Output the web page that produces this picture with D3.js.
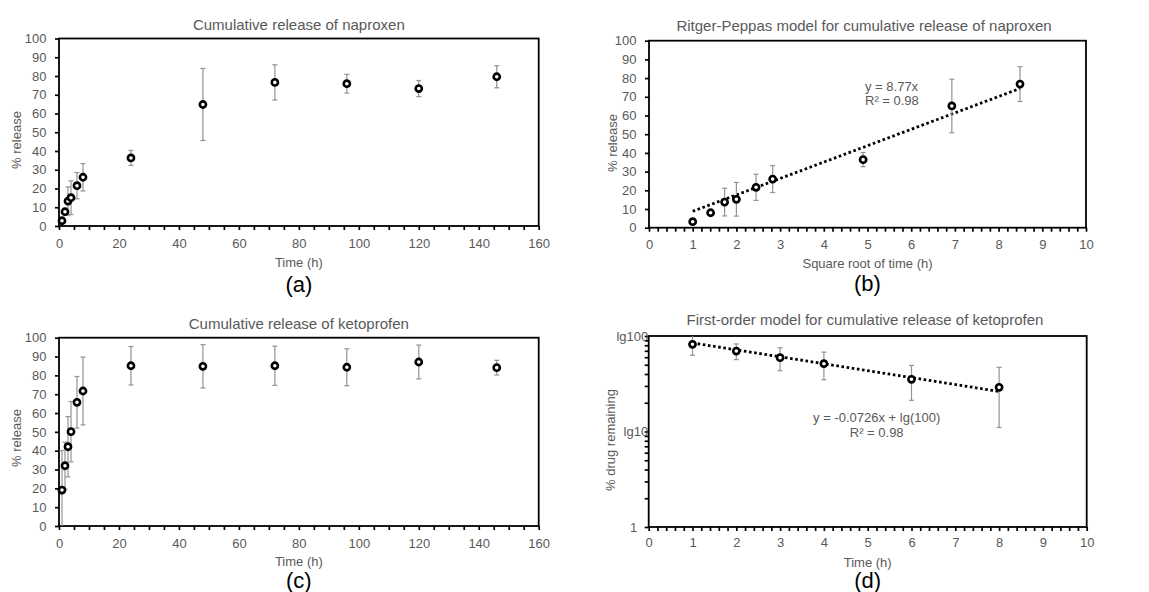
<!DOCTYPE html>
<html>
<head>
<meta charset="utf-8">
<script src="https://cdn.jsdelivr.net/npm/d3@7"></script>
<style>
  body { margin: 0; background: #fff; }
  svg { display: block; font-family: "Liberation Sans", Arial, sans-serif; }
</style>
</head>
<body>
<div id="chart"></div>
<script>
'use strict'

// panel (a) and (c): time in hours
var timeH = [1, 2, 3, 4, 6, 8, 24, 48, 72, 96, 120, 146];
var releaseNap = [2.8, 7.6, 13.3, 15.1, 21.5, 26, 36.3, 64.8, 76.6, 75.9, 73.3, 79.6];
var errNap = [1, 1.5, 7.5, 9, 7, 7.3, 4, 19.2, 9.4, 5, 4.3, 5.9];

// panel (b): square root of time
var sqrtTime = [1, 1.41, 1.73, 2, 2.45, 2.83, 4.9, 6.93, 8.49];
var releaseNapB = [3.2, 8, 13.7, 15.2, 21.6, 26, 36.4, 65.1, 76.8];
var errNapB = [1, 1.5, 7.4, 9, 7, 7.2, 3.8, 14.3, 9.3];
var slopeB = 8.77;

var releaseKet = [19.1, 32, 42.1, 50.1, 65.7, 71.7, 85.1, 84.8, 85.1, 84.3, 87.1, 84.1];
var errKet = [21, 12.5, 16, 16, 13.7, 18, 10.2, 11.5, 10.4, 9.8, 9, 3.9];

// panel (d): first-order model
var timeD = [1, 2, 3, 4, 6, 8];
var remainKet = [81.9, 69.6, 59.3, 51.3, 35.2, 29];
var errRemain = [19, 13, 16, 16.5, 14, 18];
var slopeD = -0.0726;
var logTickLabels = [[100, 'lg100'], [10, 'lg10'], [1, '1']];

var grey = '#595959';

var svg = d3.select('#chart')
	.append('svg')
	.attr('width', 1149)
	.attr('height', 592);

function drawPanel(cfg){
	var g = svg.append('g');

	var x = d3.scaleLinear().domain(cfg.xDomain).range([cfg.left, cfg.right]);
	var y = cfg.log
		? d3.scaleLog().domain([1, 100]).range([cfg.bottom, cfg.top])
		: d3.scaleLinear().domain([0, 100]).range([cfg.bottom, cfg.top]);

	// x axis, minor ticks unlabelled
	var xAxis = d3.axisBottom(x)
		.tickValues(cfg.xTicks)
		.tickSize(4)
		.tickPadding(cfg.xPad)
		.tickFormat(function(d){ return (Math.abs(d / cfg.xMajor - Math.round(d / cfg.xMajor)) < 1e-6) ? Math.round(d) : ''; });

	var gx = g.append('g')
		.attr('transform', 'translate(0,' + cfg.bottom + ')')
		.call(xAxis);

	var yAxis;
	if(cfg.log){
		var lt = [];
		[1, 10].forEach(function(dec){ for(var k = 1; k < 10; k++) lt.push(dec * k); });
		lt.push(100);
		yAxis = d3.axisLeft(y).tickValues(lt).tickSize(4).tickFormat('');
	} else {
		yAxis = d3.axisLeft(y).tickValues(d3.range(0, 101, 10)).tickSize(4).tickPadding(8.5);
	}
	var gy = g.append('g')
		.attr('transform', 'translate(' + cfg.left + ',0)')
		.call(yAxis);

	[gx, gy].forEach(function(a){
		a.select('.domain').remove();
		a.selectAll('line').attr('stroke', '#000').attr('stroke-width', 1.7);
		a.selectAll('text')
			.attr('fill', grey)
			.style('font-size', '13px')
			.style('font-family', '"Liberation Sans", Arial, sans-serif');
	});

	if(cfg.log){
		g.selectAll('.lglbl')
			.data(logTickLabels)
			.enter()
			.append('text')
				.attr('x', function(d){ return d[0] == 1 ? cfg.left - 11.5 : cfg.left - 0.5; })
				.attr('y', function(d){ return y(d[0]); })
				.attr('text-anchor', 'end')
				.attr('dominant-baseline', 'central')
				.attr('fill', grey)
				.style('font-size', '13px')
				.text(function(d){ return d[1]; });
	}

	// plot frame
	g.append('rect')
		.attr('x', cfg.left)
		.attr('y', cfg.top)
		.attr('width', cfg.right - cfg.left)
		.attr('height', cfg.bottom - cfg.top)
		.attr('fill', 'none')
		.attr('stroke', '#000')
		.attr('stroke-width', 1.8);

	// trend line
	if(cfg.trend){
		g.append('path')
			.datum(cfg.trend.xs)
			.attr('d', d3.line().x(function(d){ return x(d); }).y(function(d){ return y(cfg.trend.f(d)); }))
			.attr('fill', 'none')
			.attr('stroke', '#000')
			.attr('stroke-width', 2.8)
			.attr('stroke-dasharray', '2.6,2.6');
	}

	var pts = cfg.xs.map(function(v, i){ return {x: v, y: cfg.ys[i], e: cfg.err[i]}; });
	var lo = cfg.log ? 1 : 0;

	// error bars
	var eb = g.selectAll('.eb')
		.data(pts)
		.enter()
		.append('g')
			.attr('stroke', '#939393')
			.attr('stroke-width', 1.2);
	eb.append('line')
		.attr('x1', function(d){ return x(d.x); })
		.attr('x2', function(d){ return x(d.x); })
		.attr('y1', function(d){ return y(Math.min(100, d.y + d.e)); })
		.attr('y2', function(d){ return y(Math.max(lo, d.y - d.e)); });
	eb.filter(function(d){ return d.y + d.e < 100; })
		.append('line')
		.attr('x1', function(d){ return x(d.x) - 2.5; })
		.attr('x2', function(d){ return x(d.x) + 2.5; })
		.attr('y1', function(d){ return y(d.y + d.e); })
		.attr('y2', function(d){ return y(d.y + d.e); });
	eb.filter(function(d){ return d.y - d.e > lo; })
		.append('line')
		.attr('x1', function(d){ return x(d.x) - 2.5; })
		.attr('x2', function(d){ return x(d.x) + 2.5; })
		.attr('y1', function(d){ return y(d.y - d.e); })
		.attr('y2', function(d){ return y(d.y - d.e); });

	// markers
	g.selectAll('.pt')
		.data(pts)
		.enter()
		.append('circle')
			.attr('cx', function(d){ return x(d.x); })
			.attr('cy', function(d){ return y(d.y); })
			.attr('r', 3.1)
			.attr('fill', '#fff')
			.attr('stroke', '#000')
			.attr('stroke-width', 2.6);

	// texts
	var cx = (cfg.left + cfg.right) / 2;
	g.append('text')
		.attr('x', cfg.titleX || cx)
		.attr('y', cfg.titleY)
		.attr('text-anchor', 'middle')
		.attr('dominant-baseline', 'central')
		.attr('fill', grey)
		.style('font-size', '15px')
		.text(cfg.title);
	g.append('text')
		.attr('x', cx)
		.attr('y', cfg.xTitleY)
		.attr('text-anchor', 'middle')
		.attr('dominant-baseline', 'central')
		.attr('fill', grey)
		.style('font-size', '13px')
		.text(cfg.xTitle);
	g.append('text')
		.attr('transform', 'translate(' + cfg.yTitleX + ',' + cfg.yTitleY + ') rotate(-90)')
		.attr('text-anchor', 'middle')
		.attr('dominant-baseline', 'central')
		.attr('fill', grey)
		.style('font-size', '13px')
		.text(cfg.yTitle);
	g.append('text')
		.attr('x', cx)
		.attr('y', cfg.tagY)
		.attr('text-anchor', 'middle')
		.attr('dominant-baseline', 'central')
		.attr('fill', '#000')
		.style('font-size', '22px')
		.text(cfg.tag);

	if(cfg.eq){
		var t = g.append('text')
			.attr('x', cfg.eq.x)
			.attr('y', cfg.eq.y)
			.attr('text-anchor', cfg.eq.anchor)
			.attr('fill', grey)
			.style('font-size', '13px');
		cfg.eq.lines.forEach(function(s, i){
			t.append('tspan')
				.attr('x', cfg.eq.x)
				.attr('dy', i == 0 ? 0 : 14.5)
				.text(s);
		});
	}
}

var fineTicks = d3.range(0, 51).map(function(i){ return i / 5; });

drawPanel({
	left: 59, right: 538.7, top: 38.5, bottom: 226,
	xDomain: [0, 160], xTicks: d3.range(0, 161, 5), xMajor: 20, xPad: 8.4,
	xs: timeH, ys: releaseNap, err: errNap,
	title: 'Cumulative release of naproxen', titleY: 24,
	xTitle: 'Time (h)', xTitleY: 262,
	yTitle: '% release', yTitleX: 16, yTitleY: 140,
	tag: '(a)', tagY: 284
});

drawPanel({
	left: 649, right: 1086, top: 40.7, bottom: 227.7,
	xDomain: [0, 10], xTicks: fineTicks, xMajor: 1, xPad: 7.7,
	xs: sqrtTime, ys: releaseNapB, err: errNapB,
	trend: {xs: [sqrtTime[0], sqrtTime[sqrtTime.length - 1]], f: function(v){ return slopeB * v; }},
	eq: {x: 865, y: 90.5, anchor: 'start', lines: ['y = 8.77x', 'R\u00b2 = 0.98']},
	title: 'Ritger-Peppas model for cumulative release of naproxen', titleY: 25.7, titleX: 864,
	xTitle: 'Square root of time (h)', xTitleY: 263,
	yTitle: '% release', yTitleX: 612, yTitleY: 143,
	tag: '(b)', tagY: 283.5
});

drawPanel({
	left: 59, right: 538.7, top: 337.7, bottom: 526,
	xDomain: [0, 160], xTicks: d3.range(0, 161, 5), xMajor: 20, xPad: 8.4,
	xs: timeH, ys: releaseKet, err: errKet,
	title: 'Cumulative release of ketoprofen', titleY: 323.3,
	xTitle: 'Time (h)', xTitleY: 561.7,
	yTitle: '% release', yTitleX: 16, yTitleY: 438,
	tag: '(c)', tagY: 580
});

drawPanel({
	left: 648.7, right: 1086.7, top: 336, bottom: 527, log: true,
	xDomain: [0, 10], xTicks: fineTicks, xMajor: 1, xPad: 7,
	xs: timeD, ys: remainKet, err: errRemain,
	trend: {xs: [timeD[0], timeD[timeD.length - 1]], f: function(v){ return Math.pow(10, slopeD * v + 2); }},
	eq: {x: 876.7, y: 422, anchor: 'middle', lines: ['y = -0.0726x + lg(100)', 'R\u00b2 = 0.98']},
	title: 'First-order model for cumulative release of ketoprofen', titleY: 319.3, titleX: 865,
	xTitle: 'Time (h)', xTitleY: 562.7,
	yTitle: '% drug remaining', yTitleX: 610.7, yTitleY: 440,
	tag: '(d)', tagY: 580.7
});
</script>
</body>
</html>
